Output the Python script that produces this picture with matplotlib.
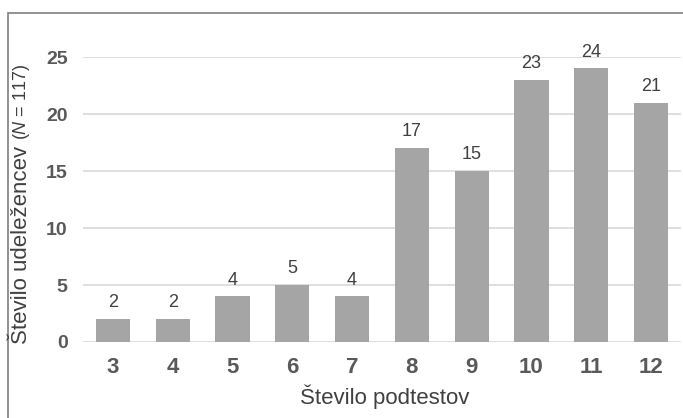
import matplotlib
matplotlib.use("Agg")
import matplotlib.pyplot as plt
from matplotlib.patches import Rectangle

plt.rcParams['font.family'] = ['Liberation Sans', 'DejaVu Sans']
plt.rcParams['mathtext.fontset'] = 'custom'
plt.rcParams['mathtext.rm'] = 'Liberation Sans'
plt.rcParams['mathtext.it'] = 'Liberation Sans:italic'

categories = ['3', '4', '5', '6', '7', '8', '9', '10', '11', '12']
counts = [2, 2, 4, 5, 4, 17, 15, 23, 24, 21]
yticks = [0, 5, 10, 15, 20, 25]

W, H = 683, 418
fig = plt.figure(figsize=(W / 100, H / 100), dpi=100)
ax = fig.add_axes([83 / W, 1 - 342 / H, (681 - 83) / W, (342 - 57) / H])

x = range(len(categories))
bars = ax.bar(x, counts, width=0.57, color='#A5A5A5', zorder=3)
for xi, v in zip(x, counts):
    ax.annotate(str(v), (xi, v), xytext=(0, 8.5), textcoords='offset points',
                ha='center', va='baseline', fontsize=13, color='#404040',
                annotation_clip=False)

ax.set_xlim(-0.5, len(categories) - 0.5)
ax.set_ylim(0, 25)
ax.set_yticks(yticks)
ax.set_xticks(list(x))
ax.set_xticklabels(categories)
ax.yaxis.grid(True, color='#D9D9D9', linewidth=1.2, zorder=0)
ax.set_axisbelow(True)
for s in ['top', 'right', 'left', 'bottom']:
    ax.spines[s].set_visible(False)
ax.tick_params(axis='both', length=0)
ax.tick_params(axis='y', pad=11, labelsize=14, labelcolor='#595959')
ax.tick_params(axis='x', pad=11, labelsize=16, labelcolor='#595959')
for lbl in ax.get_xticklabels() + ax.get_yticklabels():
    lbl.set_fontweight('bold')

fig.text(385 / W, 1 - 397 / H, 'Število podtestov', ha='center', va='center',
         fontsize=16, color='#404040')

t1 = fig.text(22 / W, 1 - 344 / H, 'Število udeležencev', rotation=90,
              ha='center', va='bottom', fontsize=16, color='#404040')
ax.annotate(r'($\mathit{N}$ = 117)', xy=(1, 1), xycoords=t1,
            xytext=(0, 4), textcoords='offset points', rotation=90,
            ha='right', va='bottom', fontsize=13, color='#404040')

fig.patches.append(Rectangle((8 / W, -0.05), 1.2, 1 - 13 / H + 0.05,
                             transform=fig.transFigure, fill=False,
                             edgecolor='#7F7F7F', linewidth=1.2))

fig.savefig('out.png', dpi=100)
